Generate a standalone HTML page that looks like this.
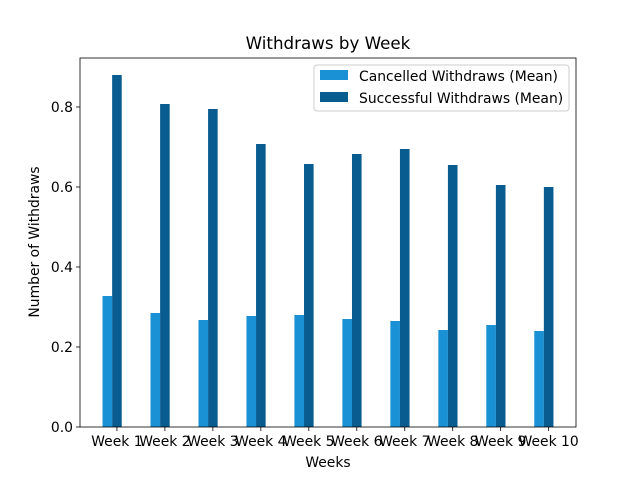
<!DOCTYPE html>
<html><head><meta charset="utf-8"><style>
body{margin:0;background:#fff;font-family:"Liberation Sans","DejaVu Sans",sans-serif;}
</style></head><body>
<svg id="chart" width="640" height="480" xmlns="http://www.w3.org/2000/svg" font-family="DejaVu Sans, Liberation Sans, sans-serif"></svg>
<script>
const categories=["Week 1","Week 2","Week 3","Week 4","Week 5","Week 6","Week 7","Week 8","Week 9","Week 10"];
const cancelled=[0.3275,0.285,0.2675,0.2775,0.28,0.27,0.265,0.2425,0.255,0.24];
const successful=[0.88,0.8075,0.795,0.7075,0.6575,0.6825,0.695,0.655,0.605,0.6];
const yTicks=[0,0.2,0.4,0.6,0.8];
const yTickLabels=["0.0","0.2","0.4","0.6","0.8"];
const NS="http://www.w3.org/2000/svg";
const svg=document.getElementById('chart');
const L=80,R=576,T=58,B=427;
const FS=13.9;
const xmin=-0.77,xmax=categories.length-1+0.57;
const xs=v=>L+(v-xmin)/(xmax-xmin)*(R-L);
const ys=v=>B-v/0.8*(B-107);
function mk(tag,attrs,txt){const e=document.createElementNS(NS,tag);for(const k in attrs)e.setAttribute(k,attrs[k]);if(txt!==undefined)e.textContent=txt;svg.appendChild(e);return e;}
categories.forEach((c,i)=>{
  let r=mk('rect',{x:xs(i-0.3),y:ys(cancelled[i]),width:xs(i-0.1)-xs(i-0.3),height:B-ys(cancelled[i]),fill:'#1a91d4'});
  
  
  let s=mk('rect',{x:xs(i-0.1),y:ys(successful[i]),width:xs(i+0.1)-xs(i-0.1),height:B-ys(successful[i]),fill:'#085c90'});
  
  
  mk('line',{x1:xs(i),x2:xs(i),y1:B,y2:B+4,stroke:'#000','stroke-width':0.8});
  let t=mk('text',{x:xs(i),y:B+19,'text-anchor':'middle','font-size':FS},c);
  
  
});
yTicks.forEach((v,i)=>{
  mk('line',{x1:L-4,x2:L,y1:ys(v),y2:ys(v),stroke:'#000','stroke-width':0.8});
  let t=mk('text',{x:L-7,y:ys(v)+5,'text-anchor':'end','font-size':FS},yTickLabels[i]);
  
  
});
let fr=mk('rect',{x:L,y:T,width:R-L,height:B-T,fill:'none',stroke:'#000','stroke-width':0.8});


let ti=mk('text',{x:(L+R)/2,y:49,'text-anchor':'middle','font-size':16.7},'Withdraws by Week');


let xl=mk('text',{x:(L+R)/2,y:467,'text-anchor':'middle','font-size':FS},'Weeks');


let yl=mk('text',{x:0,y:0,'text-anchor':'middle','font-size':FS,transform:'translate(39,242) rotate(-90)'},'Number of Withdraws');


let lg=mk('rect',{x:314,y:65,width:255,height:46,fill:'#fff',stroke:'#ccc',rx:3});


mk('rect',{x:320,y:70,width:28,height:10,fill:'#1a91d4'});
let l1=mk('text',{x:359,y:81,'font-size':FS},'Cancelled Withdraws (Mean)');


mk('rect',{x:320,y:92,width:28,height:10,fill:'#085c90'});
let l2=mk('text',{x:359,y:103,'font-size':FS},'Successful Withdraws (Mean)');


</script>
</body></html>
